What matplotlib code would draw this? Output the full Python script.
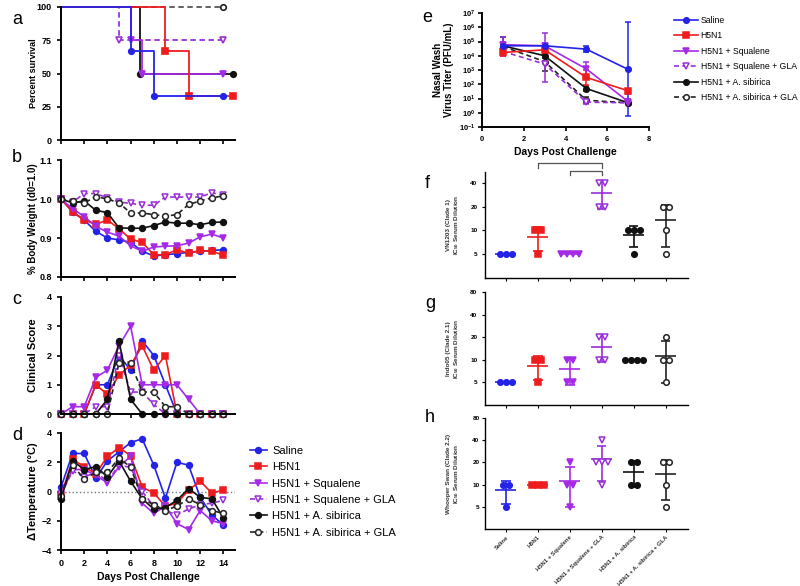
import numpy as np
import matplotlib
matplotlib.use('Agg')
import matplotlib.pyplot as plt
from matplotlib.lines import Line2D

plt.rcParams['font.family'] = ['Liberation Sans', 'DejaVu Sans']
plt.rcParams['mathtext.fontset'] = 'custom'
plt.rcParams['mathtext.rm'] = 'Liberation Sans:bold'
plt.rcParams['mathtext.bf'] = 'Liberation Sans:bold'
plt.rcParams['mathtext.it'] = 'Liberation Sans:italic:bold'

# ---- groups ----
groups = ['Saline', 'H5N1', 'H5N1 + Squalene', 'H5N1 + Squalene + GLA',
          'H5N1 + A. sibirica', 'H5N1 + A. sibirica + GLA']

# ---- a: survival (step curves) ----
surv_t_saline = [0, 6, 8, 14]
surv_saline = [100, 66.7, 33.3, 33.3]
surv_t_h5n1 = [0, 9, 11, 14.8]
surv_h5n1 = [100, 66.7, 33.3, 33.3]
surv_t_squalene = [0, 6, 7, 14]
surv_squalene = [100, 75, 50, 50]
surv_t_squalene_gla = [0, 5, 14]
surv_squalene_gla = [100, 75, 75]
surv_t_sib = [0, 6.8, 14.8]
surv_sib = [100, 50, 50]
surv_t_sib_gla = [0, 14]
surv_sib_gla = [100, 100]

# ---- b-d: daily measurements ----
days = list(range(15))
weight_saline = [1.0, 0.967, 0.946, 0.917, 0.900, 0.895, 0.889, 0.866, 0.854, 0.857, 0.860, 0.863, 0.866, 0.868, 0.870]
weight_h5n1 = [1.0, 0.967, 0.946, 0.935, 0.946, 0.924, 0.897, 0.889, 0.857, 0.857, 0.870, 0.861, 0.868, 0.866, 0.856]
weight_squalene = [1.0, 0.975, 0.955, 0.930, 0.915, 0.905, 0.880, 0.866, 0.877, 0.879, 0.880, 0.887, 0.903, 0.910, 0.900]
weight_squalene_gla = [1.0, 0.992, 1.014, 1.014, 1.003, 0.992, 0.989, 0.984, 0.984, 1.005, 1.005, 1.005, 1.005, 1.016, 1.010]
weight_sib = [1.0, 0.990, 0.995, 0.971, 0.965, 0.926, 0.925, 0.925, 0.932, 0.941, 0.938, 0.938, 0.934, 0.940, 0.941]
weight_sib_gla = [1.0, 0.995, 0.990, 1.006, 1.000, 0.990, 0.964, 0.964, 0.960, 0.956, 0.960, 0.986, 0.995, 1.003, 1.008]

score_saline = [0, 0, 0, 1, 1, 2, 1.5, 2.5, 2, 1, 0, 0, 0, 0, 0]
score_h5n1 = [0, 0, 0, 1, 0.67, 1.33, 1.67, 2.33, 1.5, 2, 0, 0, 0, 0, 0]
score_squalene = [0, 0.25, 0.25, 1.25, 1.5, 2.33, 3, 1, 1, 1, 1, 0.5, 0, 0, 0]
score_squalene_gla = [0, 0, 0, 0.25, 0.25, 2.0, 0.75, 0.75, 0.33, 0, 0, 0, 0, 0, 0]
score_sib = [0, 0, 0, 0, 0.5, 2.5, 0.5, 0, 0, 0, 0, 0, 0, 0, 0]
score_sib_gla = [0, 0, 0, 0, 0, 1.75, 1.75, 0.75, 0.75, 0.25, 0.25, 0, 0, 0, 0]

temp_saline = [0.3, 2.6, 2.6, 0.9, 2.1, 2.7, 3.35, 3.6, 1.8, -0.45, 2.0, 1.8, -0.4, -1.6, -2.3]
temp_h5n1 = [-0.3, 2.2, 1.7, 1.2, 2.4, 3.0, 2.45, 0.3, -0.1, -1.0, -0.8, 0.1, 0.7, -0.1, 0.1]
temp_squalene = [-0.2, 1.5, 1.5, 1.1, 0.6, 1.7, 2.4, -0.8, -1.5, -1.0, -2.2, -2.6, -1.3, -2.0, -2.2]
temp_squalene_gla = [-0.2, 1.4, 1.0, 1.3, 0.7, 1.8, 1.65, 0.0, -1.0, -1.3, -1.6, -1.2, -0.9, -0.8, -0.6]
temp_sib = [-0.5, 2.1, 1.5, 1.7, 1.0, 2.1, 0.7, -0.5, -1.2, -1.1, -0.6, 0.2, -0.4, -0.5, -1.8]
temp_sib_gla = [-0.3, 1.8, 0.85, 1.3, 1.3, 2.3, 1.66, -0.5, -0.9, -1.3, -1.0, -0.5, -0.9, -1.3, -1.5]

# ---- e: nasal wash titer (mean, low, high) ----
virus_days = [1, 3, 5, 7]
titer_saline = [5e4, 5e4, 2.9e4, 1.1e3]
titer_saline_lo = [3.5e4, 3e4, 1.7e4, 0.56]
titer_saline_hi = [7e4, 7e4, 5e4, 2.2e6]
titer_h5n1 = [1.7e4, 2.6e4, 3e2, 35]
titer_h5n1_lo = [1e4, 1.4e4, 90, 20]
titer_h5n1_hi = [2.8e4, 4e4, 1e3, 50]
titer_squalene = [6e4, 5e4, 1.2e3, 6]
titer_squalene_lo = [3e4, 3e4, 3e2, 4]
titer_squalene_hi = [9e4, 8e4, 3.5e3, 9]
titer_squalene_gla = [2e4, 2.6e3, 5.5, 5]
titer_squalene_gla_lo = [1e4, 1.5e2, 4, 4]
titer_squalene_gla_hi = [2e5, 4e5, 8, 6]
titer_sib = [5e4, 1e4, 50, 5]
titer_sib_lo = [4e4, 7e3, 35, 4]
titer_sib_hi = [6e4, 1.4e4, 70, 6]
titer_sib_gla = [4.5e4, 3.9e3, 7.5, 5]
titer_sib_gla_lo = [3e4, 8e2, 5, 4]
titer_sib_gla_hi = [2e5, 1.2e4, 12, 6]

# ---- f-h: IC50 serum dilution per animal ----
vn1203 = [[5, 5, 5], [10, 10, 5], [5, 5, 5, 5], [40, 40, 20, 20], [10, 10, 10, 5], [20, 20, 10, 5]]
indo05 = [[5, 5, 5], [10, 10, 5], [10, 10, 5, 5], [20, 20, 10, 10], [10, 10, 10, 10], [20, 10, 10, 5]]
whooper = [[10, 10, 5], [10, 10, 10], [20, 10, 10, 5], [40, 20, 20, 20, 10], [20, 20, 10, 10], [20, 20, 10, 5]]

# ---- styles ----
colors = ['#2323e8', '#ee1c1c', '#a52ae6', '#9a2fd8', '#111111', '#222222']
markers = ['o', 's', 'v', 'v', 'o', 'o']
filled = [True, True, True, False, True, False]
styles = ['-', '-', '-', (0, (3, 2)), '-', (0, (3, 2))]

fig = plt.figure(figsize=(8, 5.86), dpi=100)


def rect(l, t, r, b):
    return [l / 800, 1 - b / 586, (r - l) / 800, (b - t) / 586]


def style_axes(ax, size=6.5):
    ax.spines[['top', 'right']].set_visible(False)
    for s in ['left', 'bottom']:
        ax.spines[s].set_linewidth(1.4)
    ax.tick_params(direction='out', length=3, width=1.2, labelsize=size)
    for lbl in ax.get_xticklabels() + ax.get_yticklabels():
        lbl.set_fontweight('bold')


def mfc(i):
    return colors[i] if filled[i] else 'white'


# ---- panel a ----
ax_a = fig.add_axes(rect(61, 7, 235, 140))
surv_t = [surv_t_saline, surv_t_h5n1, surv_t_squalene, surv_t_squalene_gla, surv_t_sib, surv_t_sib_gla]
surv_v = [surv_saline, surv_h5n1, surv_squalene, surv_squalene_gla, surv_sib, surv_sib_gla]
for i in [5, 3, 4, 2, 1, 0]:
    c = '#555555' if i == 5 else colors[i]
    ax_a.step(surv_t[i], surv_v[i], where='post', color=c, ls=styles[i], lw=1.3, clip_on=False)
    ax_a.plot(surv_t[i][1:], surv_v[i][1:], ls='none', marker=markers[i], ms=4,
              color=colors[i], mfc=mfc(i), mew=1.2, clip_on=False)
ax_a.set_xlim(0, 15)
ax_a.set_ylim(0, 100)
ax_a.set_xticks(range(0, 15, 2))
ax_a.set_yticks([0, 25, 50, 75, 100])
ax_a.tick_params(labelbottom=False)
ax_a.set_ylabel('Percent survival', fontsize=6.5, fontweight='bold')
style_axes(ax_a)


def daily_panel(rect_, series, ylim, yticks, ylabel, ylsize):
    ax = fig.add_axes(rect_)
    lines = []
    for i, vals in enumerate(series):
        ln, = ax.plot(days, vals, color=colors[i], ls=styles[i], lw=1.2, marker=markers[i],
                      ms=4.2, mfc=mfc(i), mew=1.1, clip_on=False, label=groups[i])
        lines.append(ln)
    ax.set_xlim(0, 15)
    ax.set_ylim(*ylim)
    ax.set_xticks(range(0, 15, 2))
    ax.set_yticks(yticks)
    ax.set_ylabel(ylabel, fontsize=ylsize, fontweight='bold')
    return ax, lines


ax_b, _ = daily_panel(rect(61, 160, 235, 277),
                      [weight_saline, weight_h5n1, weight_squalene, weight_squalene_gla, weight_sib, weight_sib_gla],
                      (0.8, 1.1), [0.8, 0.9, 1.0, 1.1], '% Body Weight (d0=1.0)', 7)
ax_b.set_yticklabels(['0.8', '0.9', '1.0', '1.1'])
ax_b.tick_params(labelbottom=False)
style_axes(ax_b)

ax_c, _ = daily_panel(rect(61, 297, 235, 414),
                      [score_saline, score_h5n1, score_squalene, score_squalene_gla, score_sib, score_sib_gla],
                      (0, 4), [0, 1, 2, 3, 4], 'Clinical Score', 8)
ax_c.tick_params(labelbottom=False)
style_axes(ax_c)

ax_d, d_lines = daily_panel(rect(61, 433, 235, 550),
                            [temp_saline, temp_h5n1, temp_squalene, temp_squalene_gla, temp_sib, temp_sib_gla],
                            (-4, 4), [-4, -2, 0, 2, 4], '\u0394Temperature (\u00b0C)', 8)
ax_d.axhline(0, color='#777777', ls=':', lw=1, zorder=0)
ax_d.set_xlabel('Days Post Challenge', fontsize=7.5, fontweight='bold', labelpad=3)
style_axes(ax_d)

for ax in [ax_a, ax_b, ax_c, ax_d]:
    ax.yaxis.set_label_coords(-0.135, 0.5)

ax_d.legend(handles=d_lines, loc='upper left', bbox_to_anchor=(250 / 800, 1 - 446 / 586),
            bbox_transform=fig.transFigure, frameon=False, fontsize=8, handlelength=1.5,
            handletextpad=0.5, labelspacing=0.57, borderpad=0, borderaxespad=0)

# ---- panel e ----
ax_e = fig.add_axes(rect(482, 13, 649, 127))
titers = [titer_saline, titer_h5n1, titer_squalene, titer_squalene_gla, titer_sib, titer_sib_gla]
titers_lo = [titer_saline_lo, titer_h5n1_lo, titer_squalene_lo, titer_squalene_gla_lo, titer_sib_lo, titer_sib_gla_lo]
titers_hi = [titer_saline_hi, titer_h5n1_hi, titer_squalene_hi, titer_squalene_gla_hi, titer_sib_hi, titer_sib_gla_hi]
e_handles = []
for i in [5, 4, 3, 2, 1, 0]:
    m = np.array(titers[i])
    err = [m - np.array(titers_lo[i]), np.array(titers_hi[i]) - m]
    ax_e.errorbar(virus_days, m, yerr=err, color=colors[i], ls=styles[i], lw=1.2,
                  marker=markers[i], ms=4, mfc=mfc(i), mew=1.1, capsize=2.5,
                  elinewidth=1.1, capthick=1.1)
for i in range(6):
    e_handles.append(Line2D([], [], color=colors[i], ls=styles[i], lw=1.2, marker=markers[i],
                            ms=4, mfc=mfc(i), mew=1.1))
ax_e.set_yscale('log')
ax_e.set_ylim(1e-1, 1e7)
ax_e.set_xlim(0, 8)
ax_e.set_xticks([0, 2, 4, 6, 8])
ax_e.set_yticks([10.0 ** n for n in range(-1, 8)])
ax_e.set_yticklabels([f'$10^{{{n}}}$' for n in range(-1, 8)])
ax_e.minorticks_off()
ax_e.set_xlabel('Days Post Challenge', fontsize=7.5, fontweight='bold', labelpad=3)
ax_e.set_ylabel('Nasal Wash\nVirus Titer (PFU/mL)', fontsize=7, fontweight='bold')
ax_e.yaxis.set_label_coords(-0.165, 0.5)
style_axes(ax_e, 5.5)
ax_e.tick_params(axis='y', pad=1.5)
ax_e.legend(handles=e_handles, labels=groups, loc='upper left',
            bbox_to_anchor=(674 / 800, 1 - 16 / 586), bbox_transform=fig.transFigure,
            frameon=False, fontsize=6.2, handlelength=2.8, handletextpad=0.3,
            labelspacing=0.75, borderpad=0, borderaxespad=0)


# ---- panels f-h ----
def scatter_panel(rect_, data, ylim, yticks, ylabel):
    ax = fig.add_axes(rect_)
    ax.set_yscale('log', base=2)
    for i, vals in enumerate(data):
        vals = np.array(vals, float)
        xs = np.zeros(len(vals))
        for v in np.unique(vals):
            idx = np.where(vals == v)[0]
            xs[idx] = i + (np.arange(len(idx)) - (len(idx) - 1) / 2) * 0.19
        c = colors[i]
        mean = vals.mean()
        sd = vals.std(ddof=1)
        ax.hlines(mean, i - 0.33, i + 0.33, color=c, lw=1.2)
        if sd > 0:
            ax.vlines(i, mean - sd, mean + sd, color=c, lw=1.2)
            ax.hlines([mean - sd, mean + sd], i - 0.15, i + 0.15, color=c, lw=1.2)
        ax.plot(xs, vals, ls='none', marker=markers[i], ms=4, color=c, mfc=mfc(i), mew=1.1)
    ax.set_xlim(-0.65, 5.7)
    ax.set_ylim(*ylim)
    ax.set_yticks(yticks)
    ax.set_yticklabels([str(t) for t in yticks])
    ax.minorticks_off()
    ax.set_xticks(range(6))
    ax.tick_params(labelbottom=False)
    ax.set_ylabel(ylabel, fontsize=4.6, fontweight='bold', color='#333333')
    ax.yaxis.set_label_coords(-0.118, 0.5)
    style_axes(ax, 4.6)
    for s in ['left', 'bottom']:
        ax.spines[s].set_linewidth(1.0)
    ax.tick_params(length=2, width=0.8)
    return ax


ax_f = scatter_panel(rect(485, 172, 688, 278), vn1203, (2.5, 55), [5, 10, 20, 40],
                     'VN1203 (Clade 1)\nIC$_{50}$ Serum Dilution')
ax_g = scatter_panel(rect(485, 292, 688, 405), indo05, (2.5, 80), [5, 10, 20, 40, 80],
                     'Indo05 (Clade 2.1)\nIC$_{50}$ Serum Dilution')
ax_h = scatter_panel(rect(485, 418, 688, 529), whooper, (2.5, 80), [5, 10, 20, 40, 80],
                     'Whooper Swan (Clade 2.2)\nIC$_{50}$ Serum Dilution')
ax_h.tick_params(labelbottom=True, pad=2)
ax_h.set_xticklabels(groups, rotation=45, ha='right', rotation_mode='anchor',
                     fontsize=4.2, fontweight='bold', color='#333333')

# significance brackets on f
tr = ax_f.get_xaxis_transform()
for x0, x1, y_top, y_bot in [(1, 3, 1.088, 1.035), (2, 3, 1.012, 0.97)]:
    ax_f.plot([x0, x0, x1, x1], [y_bot, y_top, y_top, y_bot], color='#555555', lw=0.9,
              transform=tr, clip_on=False)

# panel letters
for letter, x, y in [('a', 12, 20), ('b', 12, 158), ('c', 12, 300), ('d', 12, 435),
                     ('e', 422, 18), ('f', 425, 183), ('g', 425, 303), ('h', 425, 418)]:
    fig.text(x / 800, 1 - y / 586, letter, fontsize=13, va='center', ha='left')

fig.savefig('out.png', dpi=100)
